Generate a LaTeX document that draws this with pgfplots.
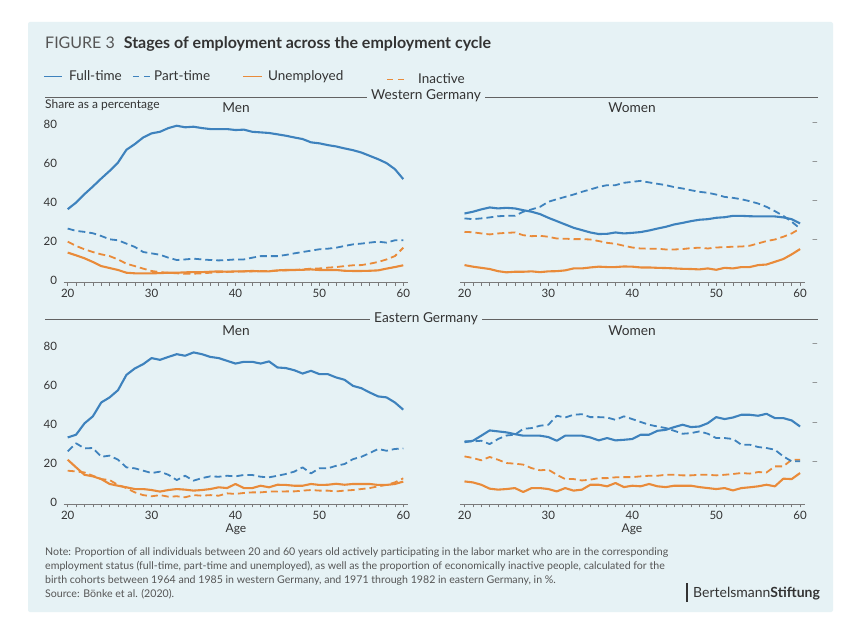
\documentclass[border=0pt]{standalone}
\usepackage{fontspec}
\setmainfont{Lato}
\usepackage{pgfplots}
\usepackage{pgfplotstable}
\pgfplotsset{compat=1.18}
\definecolor{bg}{HTML}{E6F2F5}
\definecolor{cblue}{HTML}{3E82BD}
\definecolor{corange}{HTML}{E98B3A}
\definecolor{axgray}{HTML}{7A7A7A}
\definecolor{txt}{HTML}{333333}
\definecolor{notegray}{HTML}{555555}

\pgfplotstableread{
age ft pt un in
20 36.6 26.7 14.4 20.0
21 40.0 25.5 13.0 17.8
22 44.3 25.0 11.5 16.1
23 48.2 24.3 9.6 14.7
24 52.3 22.9 7.5 13.5
25 56.2 21.2 6.5 12.6
26 60.5 20.7 5.5 10.9
27 67.0 19.0 4.1 8.7
28 69.9 17.3 3.8 7.5
29 73.3 14.7 3.8 6.2
30 75.4 14.0 3.8 5.0
31 76.2 13.3 3.9 4.4
32 78.1 11.8 4.1 4.1
33 79.3 10.6 4.1 3.8
34 78.5 10.9 4.3 3.6
35 78.8 11.3 4.4 3.6
36 78.1 10.9 4.4 3.8
37 77.6 10.6 4.6 4.1
38 77.6 10.4 4.8 4.4
39 77.6 10.6 4.6 4.6
40 77.1 10.9 4.8 4.6
41 77.3 10.9 4.8 4.8
42 76.2 11.8 5.0 4.8
43 75.9 12.6 4.8 5.0
44 75.6 12.6 4.8 5.0
45 74.9 12.6 5.3 5.1
46 74.2 13.2 5.5 5.3
47 73.3 14.0 5.5 5.5
48 72.5 14.7 5.6 5.8
49 70.8 15.4 5.8 6.2
50 70.3 16.1 5.5 6.3
51 69.4 16.4 5.5 6.7
52 68.7 16.9 5.5 7.0
53 67.7 17.8 5.1 7.5
54 66.8 18.6 5.0 7.9
55 65.6 19.0 5.0 8.0
56 63.9 19.5 5.1 8.7
57 62.2 20.0 5.3 9.6
58 60.2 19.5 6.2 10.9
59 57.1 20.7 7.0 12.6
60 52.0 20.7 7.9 16.9
}\WM

\pgfplotstableread{
age ft pt un in
20 34.4 31.9 8.0 25.0
21 35.3 31.5 7.2 24.8
22 36.5 31.9 6.6 24.2
23 37.5 32.4 6.0 23.7
24 37.0 33.0 4.9 24.2
25 37.3 33.2 4.3 24.5
26 37.0 33.2 4.6 24.7
27 36.1 35.3 4.6 23.3
28 35.3 36.5 4.8 22.8
29 34.1 37.8 4.4 23.0
30 32.2 40.4 4.8 22.5
31 30.5 41.7 4.9 21.6
32 28.8 42.9 5.3 21.5
33 27.1 44.1 6.3 21.3
34 25.9 45.5 6.3 21.3
35 24.7 46.7 6.8 21.1
36 23.9 48.0 7.2 20.3
37 24.0 48.9 7.0 19.4
38 24.7 48.9 7.0 18.9
39 24.2 50.1 7.3 17.9
40 24.5 50.6 7.2 17.0
41 24.9 51.1 6.8 16.5
42 25.7 50.3 6.8 16.4
43 26.7 49.6 6.6 16.4
44 27.6 48.9 6.5 16.0
45 28.8 47.9 6.3 16.0
46 29.6 47.2 6.1 16.2
47 30.5 46.3 6.0 16.7
48 31.2 45.5 5.8 16.9
49 31.5 45.0 6.3 16.5
50 32.2 44.1 5.6 17.0
51 32.5 42.9 6.6 17.2
52 33.2 42.4 6.3 17.4
53 33.2 41.7 7.0 17.5
54 33.0 40.7 7.0 17.9
55 32.9 39.5 8.0 19.1
56 32.9 37.8 8.3 20.3
57 32.9 35.6 9.7 21.1
58 32.4 33.2 11.1 22.5
59 31.5 30.2 13.5 24.2
60 29.3 26.7 16.2 26.7
}\WW

\pgfplotstableread{
age ft pt un in
20 33.2 26.1 21.8 16.2
21 34.6 30.2 17.9 15.8
22 40.4 27.6 14.1 15.3
23 44.0 27.8 13.3 13.6
24 51.1 23.3 11.9 11.9
25 53.7 23.9 9.4 11.4
26 57.4 21.8 8.5 8.9
27 65.2 17.9 7.7 7.3
28 68.5 17.4 6.8 5.1
29 70.7 16.2 6.8 3.7
30 73.8 15.0 6.3 3.1
31 72.9 15.7 5.5 3.7
32 74.4 14.1 6.3 2.9
33 75.8 11.4 6.8 3.1
34 75.0 13.6 6.5 2.6
35 76.7 11.1 6.0 3.7
36 75.8 12.4 6.3 3.4
37 74.4 13.3 6.8 3.7
38 73.8 13.1 7.7 3.4
39 72.4 13.6 7.3 4.6
40 71.0 13.3 9.4 4.3
41 71.9 14.0 7.3 4.8
42 71.9 14.0 7.3 5.1
43 71.0 13.1 8.5 5.1
44 72.1 12.8 7.7 5.5
45 69.0 13.6 9.0 5.5
46 68.7 14.5 8.9 5.6
47 67.6 15.7 8.5 5.6
48 65.9 17.9 8.5 6.0
49 67.3 14.8 9.4 6.3
50 65.6 17.4 8.9 6.0
51 65.6 17.4 9.0 6.0
52 63.9 18.7 9.5 5.6
53 62.7 19.6 9.0 6.0
54 59.6 22.1 9.4 6.3
55 58.4 23.3 9.4 6.8
56 56.2 25.2 9.4 7.3
57 54.2 27.3 8.9 8.2
58 53.7 26.4 8.9 8.9
59 51.1 27.3 9.4 10.2
60 47.4 27.6 10.6 12.3
}\EM

\pgfplotstableread{
age ft pt un in
20 30.8 31.2 10.7 23.5
21 31.5 31.2 10.2 22.7
22 34.1 31.5 9.0 21.5
23 36.8 29.8 7.0 23.2
24 36.3 32.4 6.5 21.8
25 35.8 34.2 6.8 20.1
26 34.9 34.6 7.3 19.8
27 34.1 37.6 5.3 19.3
28 34.1 38.0 7.3 17.5
29 34.1 39.2 7.3 16.4
30 33.4 39.7 6.8 16.7
31 31.5 44.3 5.6 14.1
32 34.1 43.4 7.3 11.9
33 34.1 44.8 6.0 11.9
34 34.1 45.1 6.5 11.2
35 33.2 43.6 9.0 11.6
36 31.7 43.6 9.0 12.4
37 32.9 43.4 8.2 12.4
38 31.7 42.2 9.9 12.8
39 32.0 44.0 7.8 12.9
40 32.4 42.6 8.5 12.9
41 34.6 41.1 8.2 13.3
42 34.6 39.7 9.4 13.6
43 36.6 38.8 8.2 13.6
44 37.1 38.0 7.8 14.1
45 38.5 36.6 8.5 14.1
46 39.7 35.1 8.5 13.8
47 38.5 35.4 8.5 13.8
48 38.8 36.3 7.8 14.1
49 40.5 35.1 7.3 14.1
50 43.6 32.9 6.8 13.8
51 42.6 32.9 7.3 14.1
52 43.4 32.4 6.1 14.5
53 44.8 29.5 7.3 15.0
54 44.8 29.5 7.7 14.7
55 44.3 28.3 8.2 15.5
56 45.3 27.8 9.0 15.3
57 43.1 26.9 8.2 18.4
58 43.1 23.5 12.1 18.4
59 41.9 21.0 11.9 21.8
60 38.8 21.0 15.0 21.8
}\EW

\pgfplotsset{
  panel/.style={
    scale only axis, width=344.8pt, height=168.1pt,
    xmin=19.5, xmax=60.6, ymin=-1, ymax=85,
    axis x line*=bottom,
    x axis line style={axgray, line width=0.7pt},
    xtick={20,30,40,50,60}, minor x tick num=9,
    tick align=outside,
    major tick length=3pt, minor tick length=3pt,
    xtick style={axgray, line width=0.5pt},
    ticklabel style={font=\fontsize{11.5}{13}\selectfont, text=txt},
    /pgf/number format/assume math mode=true,
    clip=false,
  },
  left panel/.style={panel, axis y line*=left,
    y axis line style={draw=none}, ytick={0,20,40,60,80},
    ytick style={draw=none}},
  right panel/.style={panel, axis y line*=right,
    y axis line style={draw=none}, ytick={20,40,60,80},
    yticklabels={\textendash,\textendash,\textendash,\textendash},
    ytick style={draw=none}, yticklabel style={text=axgray}},
  sft/.style={cblue, line width=2.1pt, line join=round, no markers},
  spt/.style={cblue, line width=1.8pt, dash pattern=on 7pt off 4pt, line join=round, no markers},
  sun/.style={corange, line width=2.1pt, line join=round, no markers},
  sin/.style={corange, line width=1.8pt, dash pattern=on 7pt off 4pt, line join=round, no markers},
}

\newcommand{\allseries}[1]{%
  \addplot[sin] table[x=age, y=in] {#1};
  \addplot[sun] table[x=age, y=un] {#1};
  \addplot[spt] table[x=age, y=pt] {#1};
  \addplot[sft] table[x=age, y=ft] {#1};
}

\begin{document}
\begin{tikzpicture}[x=1pt, y=1pt]
% page and panel
\fill[white] (0,0) rectangle (864,629);
\fill[bg, rounded corners=2pt] (28,17) rectangle (833,607);

% title
\node[anchor=base west, inner sep=0] at (45,580.5)
  {\fontsize{16}{19}\selectfont\color{notegray}FIGURE 3\hspace{9pt}\color{txt}\bfseries Stages of employment across the employment cycle};

% legend
\begin{scope}[font=\fontsize{13.5}{16}\selectfont]
\draw[cblue, line width=1.4pt] (44,552.5) -- (62,552.5);
\node[anchor=base west, inner sep=0, text=txt] at (69,548) {Full-time};
\draw[cblue, line width=1.4pt, dash pattern=on 6pt off 5pt] (133,552.5) -- (150,552.5);
\node[anchor=base west, inner sep=0, text=txt] at (154,548) {Part-time};
\draw[corange, line width=1.4pt] (243,552.5) -- (262,552.5);
\node[anchor=base west, inner sep=0, text=txt] at (268,548) {Unemployed};
\draw[corange, line width=1.4pt, dash pattern=on 6pt off 5pt] (387,549.5) -- (404,549.5);
\node[anchor=base west, inner sep=0, text=txt] at (418,545) {Inactive};
\end{scope}

% section headers
\draw[axgray!80!black, line width=0.8pt] (45,532) -- (818,532);
\node[fill=bg, inner xsep=4pt, inner ysep=1pt, text=txt, font=\fontsize{13.7}{16}\selectfont] at (426,533) {Western Germany};
\draw[axgray!80!black, line width=0.8pt] (45,309.7) -- (818,309.7);
\node[fill=bg, inner xsep=4pt, inner ysep=1pt, text=txt, font=\fontsize{13.7}{16}\selectfont] at (426,310.7) {Eastern Germany};

\node[anchor=base west, inner sep=0, text=txt, font=\fontsize{12}{14}\selectfont] at (45,520) {Share as a percentage};

\begin{scope}[font=\fontsize{13.7}{16}\selectfont, text=txt]
\node[anchor=base, inner sep=0] at (236,516.5) {Men};
\node[anchor=base, inner sep=0] at (632,516.5) {Women};
\node[anchor=base, inner sep=0] at (236,293) {Men};
\node[anchor=base, inner sep=0] at (632,293) {Women};
\end{scope}
\begin{scope}[font=\fontsize{12}{14}\selectfont, text=txt]
\node[anchor=base, inner sep=0] at (236,96) {Age};
\node[anchor=base, inner sep=0] at (632,96) {Age};
\end{scope}

% panels
\begin{axis}[left panel, at={(63.5pt,346.3pt)}, anchor=south west]
\allseries{\WM}
\end{axis}
\begin{axis}[right panel, at={(460.3pt,346.3pt)}, anchor=south west]
\allseries{\WW}
\end{axis}
\begin{axis}[left panel, at={(63.5pt,124.7pt)}, anchor=south west]
\allseries{\EM}
\end{axis}
\begin{axis}[right panel, at={(460.3pt,124.7pt)}, anchor=south west]
\allseries{\EW}
\end{axis}

% note
\begin{scope}[font=\fontsize{10.6}{14}\selectfont, text=notegray]
\node[anchor=base west, inner sep=0] at (45,73.5) {Note: Proportion of all individuals between 20 and 60 years old actively participating in the labor market who are in the corresponding};
\node[anchor=base west, inner sep=0] at (45,59.5) {employment status (full-time, part-time and unemployed), as well as the proportion of economically inactive people, calculated for the};
\node[anchor=base west, inner sep=0] at (45,45.5) {birth cohorts between 1964 and 1985 in western Germany, and 1971 through 1982 in eastern Germany, in \%.};
\node[anchor=base west, inner sep=0] at (45,31.5) {Source: Bönke et al. (2020).};
\end{scope}

% logo
\draw[txt, line width=1.1pt] (687,27) -- (687,46);
\node[anchor=base west, inner sep=0, text=txt, font=\fontsize{14}{16}\selectfont] at (693,32) {Bertelsmann\textbf{Stiftung}};
\end{tikzpicture}
\end{document}
